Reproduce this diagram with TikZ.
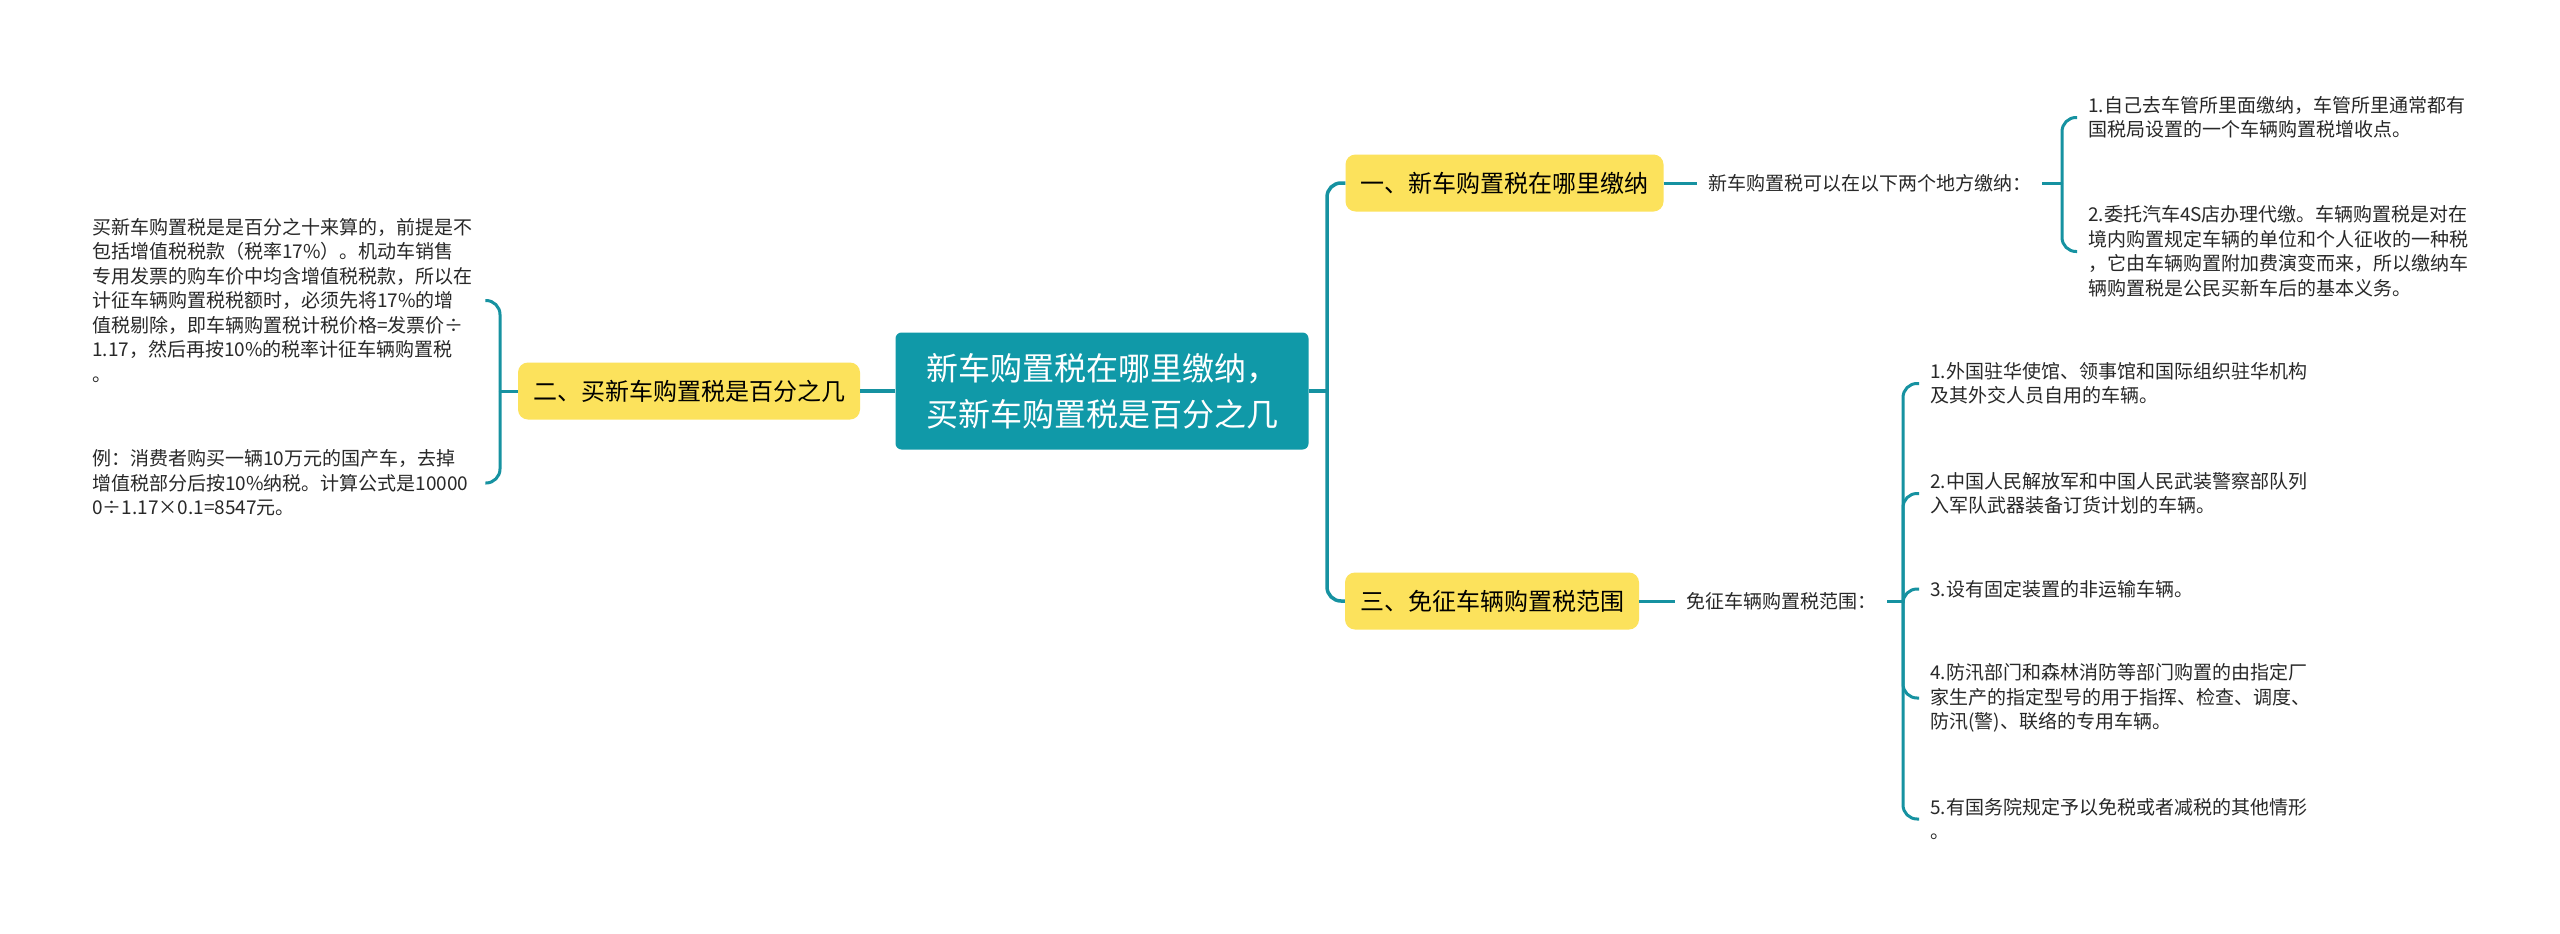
\documentclass[tikz,border=0pt]{standalone}
\usepackage{fontspec}
\setmainfont{Noto Sans CJK SC}
\usetikzlibrary{calc}
\definecolor{teal1}{RGB}{16,153,168}
\definecolor{line1}{RGB}{22,146,161}
\definecolor{yel}{RGB}{252,226,92}
\definecolor{txt}{RGB}{40,40,40}
\tikzset{
 central/.style={fill=teal1, rounded corners=6pt, text=white, minimum width=413pt, minimum height=117pt, align=left, font=\fontsize{32}{46}\selectfont, inner sep=0pt},
 topic/.style={fill=yel, rounded corners=10pt, text=black, minimum height=57pt, inner xsep=15pt, inner ysep=0pt, font=\fontsize{24}{30}\selectfont},
 lbl/.style={inner xsep=11pt, inner ysep=4pt, font=\fontsize{19}{24.5}\selectfont, text=txt, anchor=west},
 leaf/.style={inner xsep=11pt, inner ysep=4pt, font=\fontsize{19}{24.5}\selectfont, text=txt, align=left, anchor=west, text width=382pt},
 conn/.style={draw=line1, line width=3.5pt},
 br/.style={draw=line1, line width=3pt, rounded corners=14pt},
}
\begin{document}
\begin{tikzpicture}[x=1pt,y=-1pt]
\fill[white] (0,0) rectangle (2560,934);
\useasboundingbox (0,0) rectangle (2560,934);

\node[central] (c) at (1102,391) {新车购置税在哪里缴纳，\\买新车购置税是百分之几};
\node[topic] (n2) at (689,391) {二、买新车购置税是百分之几};
\node[topic] (n1) at (1504.5,183) {一、新车购置税在哪里缴纳};
\node[topic] (n3) at (1492,601) {三、免征车辆购置税范围};

\node[lbl] (lab1) at (1697,183) {新车购置税可以在以下两个地方缴纳：};
\node[lbl] (lab3) at (1675,601) {免征车辆购置税范围：};

\node[leaf] (c11) at (2077,117.5) {1.自己去车管所里面缴纳，车管所里通常都有\\国税局设置的一个车辆购置税增收点。};
\node[leaf] (c12) at (2077,251.5) {2.委托汽车4S店办理代缴。车辆购置税是对在\\境内购置规定车辆的单位和个人征收的一种税\\，它由车辆购置附加费演变而来，所以缴纳车\\辆购置税是公民买新车后的基本义务。};

\node[leaf] (c21) at (81,300.5) {买新车购置税是是百分之十来算的，前提是不\\包括增值税税款（税率17\%）。机动车销售\\专用发票的购车价中均含增值税税款，所以在\\计征车辆购置税税额时，必须先将17\%的增\\值税剔除，即车辆购置税计税价格=发票价÷\\1.17，然后再按10\%的税率计征车辆购置税\\。};
\node[leaf] (c22) at (81,483) {例：消费者购买一辆10万元的国产车，去掉\\增值税部分后按10\%纳税。计算公式是10000\\0÷1.17×0.1=8547元。};

\node[leaf] (c31) at (1919,383.5) {1.外国驻华使馆、领事馆和国际组织驻华机构\\及其外交人员自用的车辆。};
\node[leaf] (c32) at (1919,493.5) {2.中国人民解放军和中国人民武装警察部队列\\入军队武器装备订货计划的车辆。};
\node[leaf] (c33) at (1919,589) {3.设有固定装置的非运输车辆。};
\node[leaf] (c34) at (1919,698) {4.防汛部门和森林消防等部门购置的由指定厂\\家生产的指定型号的用于指挥、检查、调度、\\防汛(警)、联络的专用车辆。};
\node[leaf] (c35) at (1919,819) {5.有国务院规定予以免税或者减税的其他情形\\。};

% main connectors
\draw[conn] (c.west) -- (n2.east);
\coordinate (m) at (1327,391);
\draw[conn] (c.east) -- (m);
\draw[conn, rounded corners=14pt] (m) |- (n1.west);
\draw[conn, rounded corners=14pt] (m) |- (n3.west);

% branch 1
\draw[br] (n1.east) -- (lab1.west);
\coordinate (b1) at (2062,183);
\draw[br] (lab1.east) -- (b1);
\draw[br] (b1) |- (c11.west);
\draw[br] (b1) |- (c12.west);

% branch 3
\draw[br] (n3.east) -- (lab3.west);
\coordinate (b3) at (1903,601);
\draw[br] (lab3.east) -- (b3);
\draw[br] (b3) |- (c31.west);
\draw[br] (b3) |- (c32.west);
\draw[br] (b3) |- (c33.west);
\draw[br] (b3) |- (c34.west);
\draw[br] (b3) |- (c35.west);

% branch 2
\coordinate (b2) at (500,391);
\draw[br] (n2.west) -- (b2);
\draw[br] (b2) |- (c21.east);
\draw[br] (b2) |- (c22.east);
\end{tikzpicture}
\end{document}
